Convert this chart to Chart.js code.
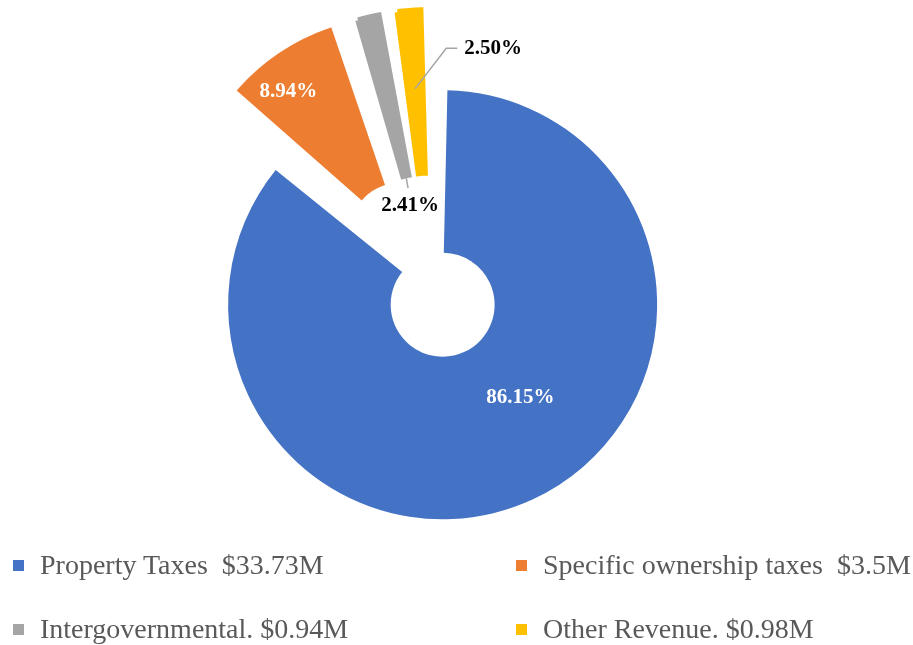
<!DOCTYPE html>
<html>
<head>
<meta charset="utf-8">
<title>Revenue sources</title>
<script src="https://cdn.jsdelivr.net/npm/chart.js@4.4.0/dist/chart.umd.min.js"></script>
<style>
  html, body { margin: 0; padding: 0; background: #fff; }
  #wrap { position: relative; width: 913px; height: 645px; overflow: hidden; }
  #revenue-chart { position: absolute; left: 0; top: 0; }
  #legend { position: absolute; left: 0; top: 547px; width: 913px; margin: 0; padding: 0; list-style: none; }
  #legend li { position: absolute; white-space: pre; font-family: "Liberation Serif", serif; font-size: 28px; color: #595959; line-height: 36px; }
  #legend li span.box { position: absolute; left: 0; top: 13px; width: 11px; height: 11px; }
  #legend li span.txt { position: absolute; left: 27px; top: 0; }
</style>
</head>
<body>
<div id="wrap">
  <canvas id="revenue-chart" width="913" height="645"></canvas>
  <ul id="legend"></ul>
</div>
<script>
// revenue split (values in $M, shares)
const categories = ['Property Taxes  $33.73M', 'Specific ownership taxes  $3.5M', 'Intergovernmental. $0.94M', 'Other Revenue. $0.98M'];
const amounts = [33.73, 3.5, 0.94, 0.98];
const shareLabels = ['86.15%', '8.94%', '2.41%', '2.50%'];
const colors = ['#4472C4', '#ED7D31', '#A5A5A5', '#FFC000'];

// draws the percent labels (and the little leader lines for the thin slices)
const sliceLabels = {
  id: 'sliceLabels',
  afterDatasetsDraw(chart, args, opts) {
    const ctx = chart.ctx;
    const meta = chart.getDatasetMeta(0);
    ctx.save();
    ctx.font = opts.font;
    ctx.textAlign = 'center';
    ctx.textBaseline = 'middle';
    meta.data.forEach((arc, i) => {
      const p = arc.getProps(['x', 'y', 'startAngle', 'endAngle', 'innerRadius', 'outerRadius', 'circumference']);
      const off = (arc.options.offset || 0) / 4;
      const mid = (p.startAngle + p.endAngle) / 2;
      const fix = 1 - Math.sin(Math.min(Math.PI, p.circumference));
      // same shift chart.js applies to an offset arc
      const cx = p.x + Math.cos(mid) * off;
      const cy = p.y + Math.sin(mid) * off;
      const inner = p.innerRadius + off * fix;
      const outer = p.outerRadius + off * fix;
      const spot = opts.spots[i];
      const a = mid + spot.turn * Math.PI / 180;
      const lx = cx + Math.cos(a) * spot.dist;
      const ly = cy + Math.sin(a) * spot.dist;
      const text = shareLabels[i];

      if (spot.leader) {
        const r0 = inner + (outer - inner) * spot.leader.from;
        const sx = cx + Math.cos(mid) * r0;
        const sy = cy + Math.sin(mid) * r0;
        ctx.strokeStyle = '#A5A5A5';
        ctx.lineWidth = 1.5;
        ctx.beginPath();
        ctx.moveTo(sx, sy);
        if (spot.leader.type === 'elbow') {
          const w = ctx.measureText(text).width;
          const ex = lx - w / 2 - 7;
          ctx.lineTo(ex - 11, ly);
          ctx.lineTo(ex, ly);
        } else {
          ctx.lineTo(lx - 2, ly - 17);
        }
        ctx.stroke();
      }
      ctx.fillStyle = spot.color;
      ctx.fillText(text, lx, ly);
    });
    ctx.restore();
  }
};

const ctx = document.getElementById('revenue-chart').getContext('2d');
const revenueChart = new Chart(ctx, {
  type: 'doughnut',
  data: {
    labels: categories,
    datasets: [{
      data: amounts,
      backgroundColor: colors,
      borderColor: colors,
      borderWidth: [0, 4, 5.5, 6],
      borderJoinStyle: 'miter',
      offset: [120, 229, 179, 180]
    }]
  },
  options: {
    responsive: false,
    animation: false,
    radius: 184.5,
    cutout: '11.92%',
    layout: { padding: { left: 0, right: 53, top: 0, bottom: 90 } },
    plugins: {
      legend: { display: false },
      tooltip: { enabled: false },
      sliceLabels: {
        font: 'bold 21px "Liberation Serif"',
        spots: [
          { color: '#fff', dist: 120.7, turn: -15.1 },
          { color: '#fff', dist: 177, turn: -4.6 },
          { color: '#000', dist: 30.3, turn: -5.2, leader: { type: 'straight', from: 0 } },
          { color: '#000', dist: 196, turn: 24.4, leader: { type: 'elbow', from: 0.52 } }
        ]
      }
    }
  },
  plugins: [sliceLabels]
});

// html legend in two columns, built from the chart's own legend items
const legendEl = document.getElementById('legend');
const items = revenueChart.options.plugins.legend.labels.generateLabels(revenueChart);
items.forEach((item, i) => {
  const li = document.createElement('li');
  li.style.left = (i % 2 === 0 ? 13 : 516) + 'px';
  li.style.top = (Math.floor(i / 2) * 63.5) + 'px';
  const box = document.createElement('span');
  box.className = 'box';
  box.style.background = item.fillStyle;
  const txt = document.createElement('span');
  txt.className = 'txt';
  txt.textContent = item.text;
  li.appendChild(box);
  li.appendChild(txt);
  legendEl.appendChild(li);
});
</script>
</body>
</html>
